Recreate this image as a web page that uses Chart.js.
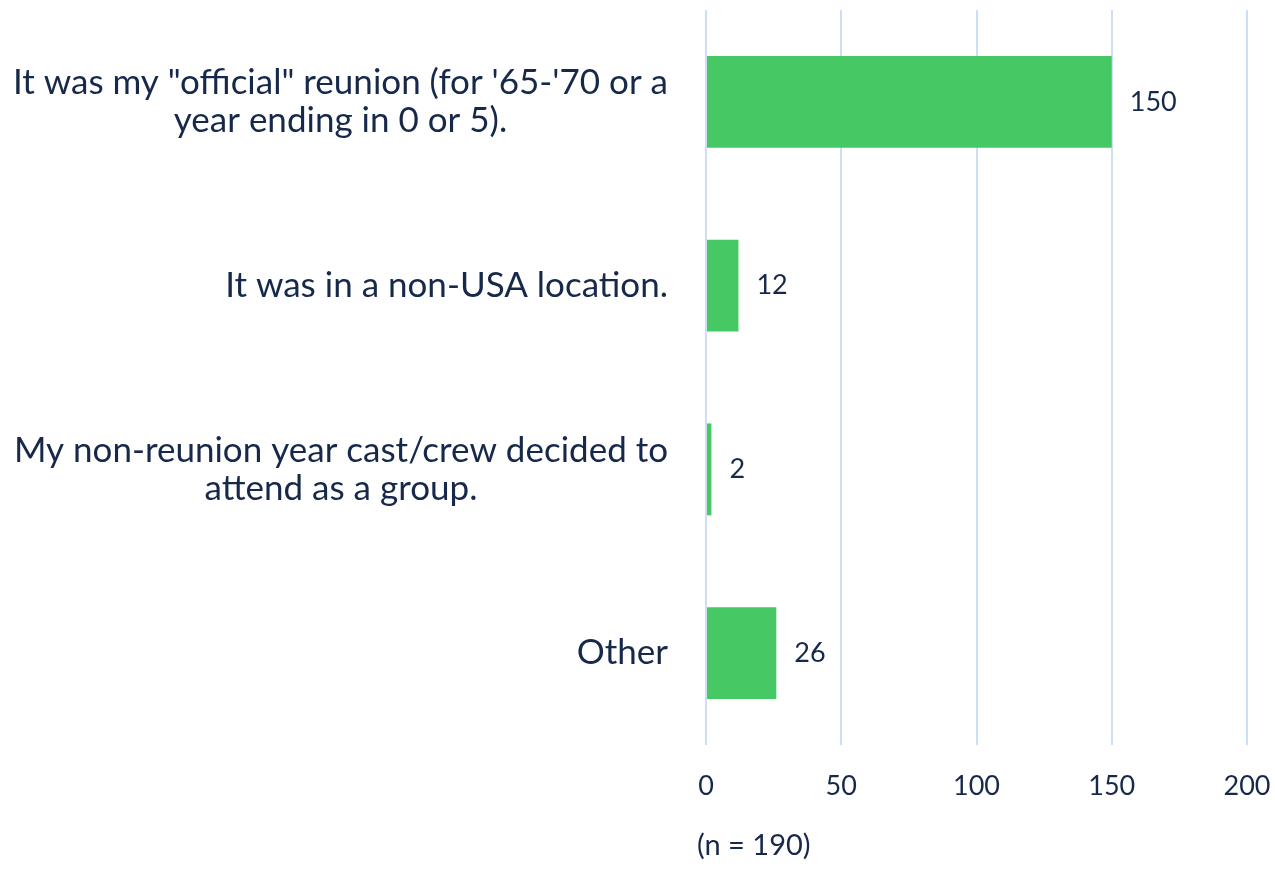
<!DOCTYPE html>
<html>
<head>
<meta charset="utf-8">
<script src="https://cdn.jsdelivr.net/npm/chart.js@4"></script>
<style>
  html, body { margin: 0; padding: 0; background: #ffffff; }
  #wrap { width: 1275px; height: 886px; }
</style>
</head>
<body>
<div id="wrap"><canvas id="chart"></canvas></div>
<script>
var categories = [
    ['It was my "official" reunion (for \'65-\'70 or a', 'year ending in 0 or 5).'],
    'It was in a non-USA location.',
    ['My non-reunion year cast/crew decided to', 'attend as a group.'],
    'Other'
];
var counts = [150, 12, 2, 26];
var xTicks = [0, 50, 100, 150, 200];
var note = '(n = 190)';

var textColor = '#17294a';
var fontFamily = 'Lato, "Open Sans", sans-serif';

// category labels: block right-aligned to the axis, lines centred in the block
var categoryLabels = {
    id: 'categoryLabels',
    afterDraw: function (chart) {
        var ctx = chart.ctx;
        var yScale = chart.scales.y;
        var right = chart.chartArea.left - 38;
        var lineHeight = 38;
        ctx.save();
        ctx.fillStyle = textColor;
        ctx.font = '35px ' + fontFamily;
        ctx.textAlign = 'center';
        ctx.textBaseline = 'middle';
        categories.forEach(function (label, i) {
            var lines = Array.isArray(label) ? label : [label];
            var widest = Math.max.apply(null, lines.map(function (l) { return ctx.measureText(l).width; }));
            var cx = right - widest / 2;
            var cy = yScale.getPixelForTick(i);
            var top = cy - (lines.length - 1) * lineHeight / 2;
            lines.forEach(function (l, j) {
                ctx.fillText(l, cx, top + j * lineHeight);
            });
        });
        ctx.restore();
    }
};

// value labels to the right of each bar
var valueLabels = {
    id: 'valueLabels',
    afterDatasetsDraw: function (chart) {
        var ctx = chart.ctx;
        var meta = chart.getDatasetMeta(0);
        ctx.save();
        ctx.fillStyle = textColor;
        ctx.font = '27px ' + fontFamily;
        ctx.textAlign = 'left';
        ctx.textBaseline = 'middle';
        meta.data.forEach(function (bar, i) {
            ctx.fillText(counts[i], bar.x + 18, bar.y);
        });
        ctx.restore();
    }
};

// sample size note under the axis
var sampleNote = {
    id: 'sampleNote',
    afterDraw: function (chart) {
        var ctx = chart.ctx;
        ctx.save();
        ctx.fillStyle = textColor;
        ctx.font = '29px ' + fontFamily;
        ctx.textAlign = 'left';
        ctx.textBaseline = 'middle';
        ctx.fillText(note, chart.chartArea.left - 9, 846);
        ctx.restore();
    }
};

new Chart(document.getElementById('chart'), {
    type: 'bar',
    data: {
        labels: categories,
        datasets: [{
            data: counts,
            backgroundColor: '#46c864',
            borderWidth: 0,
            categoryPercentage: 1,
            barPercentage: 0.5
        }]
    },
    options: {
        indexAxis: 'y',
        responsive: true,
        maintainAspectRatio: false,
        animation: false,
        layout: { padding: { top: 10, right: 28, bottom: 0, left: 0 } },
        plugins: {
            legend: { display: false },
            tooltip: { enabled: false }
        },
        scales: {
            x: {
                min: 0,
                max: 200,
                afterBuildTicks: function (scale) {
                    scale.ticks = xTicks.map(function (v) { return { value: v }; });
                },
                afterFit: function (scale) {
                    scale.height = 141;
                    scale.paddingLeft = 0;
                    scale.paddingRight = 0;
                },
                grid: { color: '#cddff3', lineWidth: 2, drawTicks: false },
                border: { display: false },
                ticks: {
                    color: textColor,
                    font: { family: fontFamily, size: 27 },
                    padding: 25,
                    maxRotation: 0
                }
            },
            y: {
                afterFit: function (scale) {
                    scale.width = 706;
                    scale.paddingTop = 0;
                    scale.paddingBottom = 0;
                },
                grid: { display: false, drawTicks: false },
                border: { display: false },
                ticks: { display: false }
            }
        }
    },
    plugins: [categoryLabels, valueLabels, sampleNote]
});
</script>
</body>
</html>
